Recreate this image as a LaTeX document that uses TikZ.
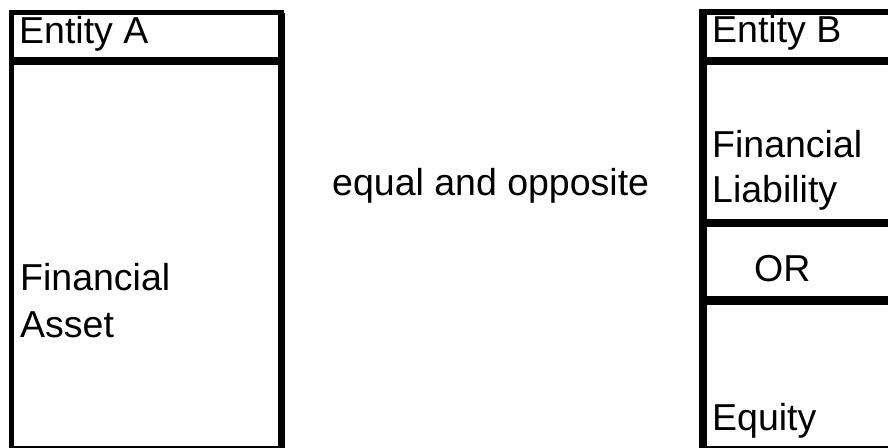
\documentclass[tikz,border=0pt]{standalone}
\usepackage{fontspec}
\setmainfont{Liberation Sans}
\begin{document}
\begin{tikzpicture}[x=1pt,y=-1pt,
  lbl/.style={anchor=base west,inner sep=0pt,font=\fontsize{37.5}{43}\selectfont},
  boxline/.style={line width=5.5pt},
  divline/.style={line width=7.5pt}]
\useasboundingbox (0,0) rectangle (888,447);
\fill[white] (0,0) rectangle (888,447);
\begin{scope}
\clip (0,0) rectangle (888,447);
% Entity A box
\draw[boxline] (11.5,12.5) rectangle (281,449);
\draw[line width=7pt] (281,12.5) -- (281,449);
\draw[divline] (11.5,61) -- (281,61);
% Entity B box
\draw[line width=6pt] (900,12) -- (703,12);
\draw[line width=8pt] (703,9) -- (703,449);
\draw[line width=6pt] (703,449) -- (900,449);
\draw[divline] (703,61) -- (900,61);
\draw[divline] (703,223) -- (900,223);
\draw[line width=9pt] (703,300.5) -- (900,300.5);
\end{scope}
% texts
\node[lbl] (ea) at (19,43) {Entity A};
\node[lbl] (fa1) at (20,290) {Financial};
\node[lbl] (fa2) at (20,337) {Asset};
\node[lbl] (eq) at (332,195) {equal and opposite};
\node[lbl] (eb) at (712,42) {Entity B};
\node[lbl] (fl1) at (712,157) {Financial};
\node[lbl] (fl2) at (712,202) {Liability};
\node[lbl] (or) at (754,281) {OR};
\node[lbl] (eqy) at (712,430) {Equity};
\end{tikzpicture}
\end{document}
